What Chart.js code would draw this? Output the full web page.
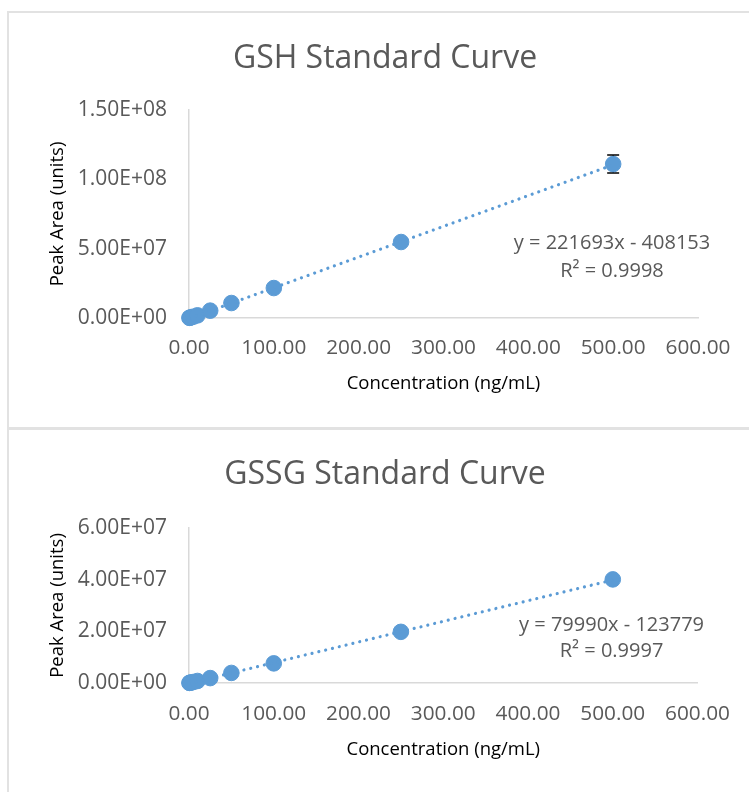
<!DOCTYPE html>
<html>
<head>
<meta charset="utf-8">
<script src="https://cdn.jsdelivr.net/npm/chart.js@4.4.1/dist/chart.umd.min.js"></script>
<style>
  html, body { margin: 0; padding: 0; background: #ffffff; width: 749px; height: 792px; overflow: hidden; }
  .box { position: absolute; box-sizing: border-box; border: 2px solid #e2e2e2; background: #ffffff; }
  #box1 { left: 7px; top: 11px; width: 800px; height: 418px; }
  #box2 { left: 7px; top: 428px; width: 800px; height: 420px; }
  canvas { position: absolute; left: 0; }
  #c1 { top: 0; }
  #c2 { top: 428px; }
</style>
</head>
<body>
<div class="box" id="box1"></div>
<div class="box" id="box2"></div>
<canvas id="c1" width="749" height="428"></canvas>
<canvas id="c2" width="749" height="364"></canvas>
<script>
// ---- Data ----
const concentrations = [0.5, 1, 2.5, 5, 10, 25, 50, 100, 250, 500];          // ng/mL
const gshPeakArea    = [0.12e6, 0.22e6, 0.5e6, 0.95e6, 1.9e6, 5.3e6, 10.8e6, 21.6e6, 54.8e6, 111.0e6];
const gshError       = [0.01e6, 0.02e6, 0.04e6, 0.08e6, 0.15e6, 0.3e6, 0.6e6, 1.0e6, 2.0e6, 6.5e6];
const gssgPeakArea   = [0.04e6, 0.08e6, 0.19e6, 0.38e6, 0.78e6, 1.9e6, 3.9e6, 7.6e6, 19.8e6, 40.1e6];
const gssgError      = [0.005e6, 0.01e6, 0.02e6, 0.03e6, 0.05e6, 0.1e6, 0.2e6, 0.3e6, 0.6e6, 1.2e6];

// Trendline equations shown on the charts
const gshTrend  = { slope: 221693, intercept: -408153 };
const gssgTrend = { slope: 79990,  intercept: -123779 };
const gshEquation  = ["y = 221693x - 408153", "R\u00B2 = 0.9998"];
const gssgEquation = ["y = 79990x - 123779", "R\u00B2 = 0.9997"];

const titles = ["GSH Standard Curve", "GSSG Standard Curve"];
const xTitle = "Concentration (ng/mL)";
const yTitle = "Peak Area (units)";
const xTickValues = [0, 100, 200, 300, 400, 500, 600];

// ---- Helpers ----
const BLUE = "#5B9BD5";
const TICK_COLOR = "#595959";
const FONT = "'Open Sans', 'DejaVu Sans', sans-serif";

function excelSci(v) {
  if (v === 0) return "0.00E+00";
  const s = v.toExponential(2);          // e.g. 1.50e+8
  const [m, e] = s.split("e");
  const sign = e[0] === "-" ? "-" : "+";
  const digits = e.replace(/[+-]/, "").padStart(2, "0");
  return m + "E" + sign + digits;
}

const errorBarPlugin = {
  id: "errorBars",
  beforeDatasetsDraw(chart) {
    const ctx = chart.ctx;
    const xs = chart.scales.x, ys = chart.scales.y;
    chart.data.datasets.forEach((ds) => {
      if (!ds.errors) return;
      ctx.save();
      ctx.strokeStyle = "#000000";
      ctx.lineWidth = 1.5;
      ds.data.forEach((pt, i) => {
        const e = ds.errors[i];
        const px = xs.getPixelForValue(pt.x);
        const top = ys.getPixelForValue(pt.y + e);
        const bot = ys.getPixelForValue(pt.y - e);
        ctx.beginPath();
        ctx.moveTo(px, top); ctx.lineTo(px, bot);
        ctx.moveTo(px - 6, top); ctx.lineTo(px + 6, top);
        ctx.moveTo(px - 6, bot); ctx.lineTo(px + 6, bot);
        ctx.stroke();
      });
      ctx.restore();
    });
  }
};

const equationPlugin = {
  id: "equationLabel",
  afterDatasetsDraw(chart, args, opts) {
    if (!opts || !opts.lines) return;
    const ctx = chart.ctx;
    const a = chart.chartArea;
    ctx.save();
    ctx.font = opts.size + "px " + FONT;
    ctx.fillStyle = TICK_COLOR;
    ctx.textAlign = "center";
    ctx.textBaseline = "middle";
    const cx = a.right - opts.rightOffset;
    opts.lines.forEach((t, i) => {
      ctx.fillText(t, cx, a.top + (a.bottom - a.top) * opts.yFracs[i]);
    });
    ctx.restore();
  }
};

function buildChart(canvasId, cfg) {
  const points = concentrations.map((c, i) => ({ x: c, y: cfg.values[i] }));
  const xMin = Math.min(...concentrations), xMax = Math.max(...concentrations);
  const trend = [
    { x: xMin, y: cfg.trend.slope * xMin + cfg.trend.intercept },
    { x: xMax, y: cfg.trend.slope * xMax + cfg.trend.intercept }
  ];
  return new Chart(document.getElementById(canvasId), {
    type: "scatter",
    data: {
      datasets: [
        {
          label: "data",
          data: points,
          errors: cfg.errors,
          backgroundColor: BLUE,
          borderColor: BLUE,
          pointRadius: 7.8,
          pointHoverRadius: 7.8,
          clip: false,
          order: 2
        },
        {
          type: "line",
          label: "trend",
          data: trend,
          borderColor: BLUE,
          borderWidth: 3.2,
          borderDash: [0.01, 7],
          borderCapStyle: "round",
          pointRadius: 0,
          fill: false,
          clip: false,
          order: 1
        }
      ]
    },
    options: {
      responsive: false,
      animation: false,
      devicePixelRatio: 1,
      layout: { padding: { left: 21, right: 0, top: 0, bottom: 0 } },
      plugins: {
        legend: { display: false },
        tooltip: { enabled: false },
        title: {
          display: true,
          text: cfg.title,
          color: TICK_COLOR,
          font: { family: FONT, size: 32, weight: "normal" },
          padding: cfg.titlePadding
        },
        equationLabel: {
          lines: cfg.equation,
          size: 20,
          rightOffset: 86,
          yFracs: cfg.eqFracs
        }
      },
      scales: {
        x: {
          type: "linear",
          min: 0, max: 600,
          afterBuildTicks(s) { s.ticks = xTickValues.map(v => ({ value: v })); },
          afterFit(s) { s.height = cfg.xHeight; },
          grid: { display: false, drawTicks: false },
          border: { display: true, color: "#d9d9d9", width: 1.5 },
          ticks: {
            padding: cfg.xTickPad,
            color: TICK_COLOR,
            font: { family: FONT, size: 20.8 },
            maxRotation: 0,
            callback: v => Number(v).toFixed(2)
          },
          title: {
            display: true, text: xTitle, color: "#000000",
            font: { family: FONT, size: 18.5 },
            padding: { top: 0, bottom: cfg.xTitlePadBottom }
          }
        },
        y: {
          type: "linear",
          min: 0, max: cfg.yMax,
          ticks: {
            stepSize: cfg.yStep,
            padding: 22,
            color: TICK_COLOR,
            font: { family: FONT, size: 21 },
            callback: v => excelSci(v)
          },
          afterFit(s) { s.width = 168; },
          grid: { display: false, drawTicks: false },
          border: { display: true, color: "#d9d9d9", width: 1.5 },
          title: {
            display: true, text: yTitle, color: "#000000",
            font: { family: FONT, size: 18.5 },
            padding: { top: 26, bottom: 0 }
          }
        },
        // empty right-hand margin so the plot ends where the reference's does
        rightMargin: {
          type: "linear",
          position: "right",
          display: true,
          afterFit(s) { s.width = 51; },
          grid: { display: false, drawTicks: false },
          border: { display: false },
          ticks: { display: false }
        }
      }
    },
    plugins: [errorBarPlugin, equationPlugin]
  });
}

buildChart("c1", {
  title: titles[0],
  values: gshPeakArea,
  errors: gshError,
  trend: gshTrend,
  equation: gshEquation,
  eqFracs: [0.64, 0.775],
  yMax: 1.5e8, yStep: 5e7,
  titlePadding: { top: 39.5, bottom: 32.1 },
  xHeight: 110,
  xTickPad: 18,
  xTitlePadBottom: 33
});

buildChart("c2", {
  title: titles[1],
  values: gssgPeakArea,
  errors: gssgError,
  trend: gssgTrend,
  equation: gssgEquation,
  eqFracs: [0.625, 0.795],
  yMax: 6e7, yStep: 2e7,
  titlePadding: { top: 27.5, bottom: 34.1 },
  xHeight: 109,
  xTickPad: 19,
  xTitlePadBottom: 31
});
</script>
</body>
</html>
